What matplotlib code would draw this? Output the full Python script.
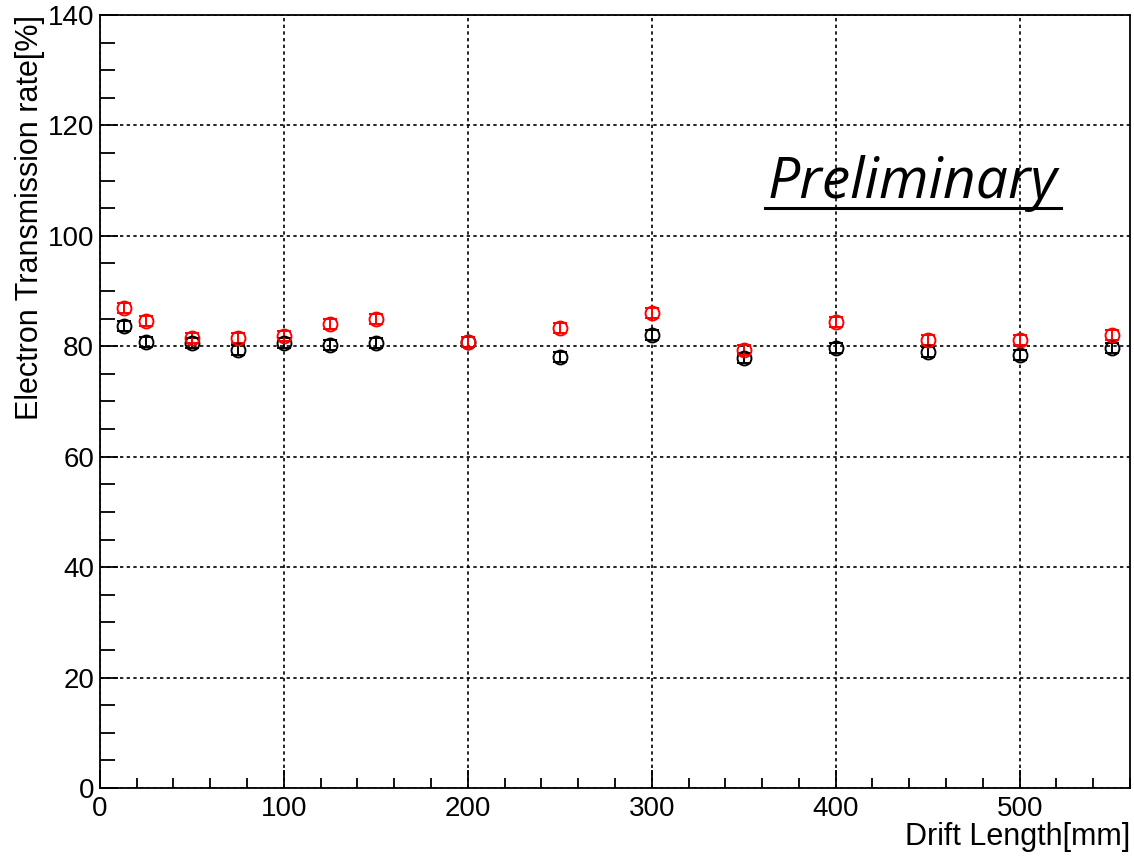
import matplotlib.pyplot as plt
from matplotlib.ticker import MultipleLocator
from matplotlib.lines import Line2D

# drift lengths [mm]
drift = [13, 25, 50, 75, 100, 125, 150, 200, 250, 300, 350, 400, 450, 500, 550]

# electron transmission rate [%]
rate_red = [87.0, 84.6, 81.5, 81.5, 81.8, 84.0, 85.0, 80.8, 83.3, 86.1, 79.4, 84.4, 81.2, 81.2, 82.1]
rate_black = [83.6, 80.8, 80.6, 79.4, 80.6, 80.2, 80.6, 80.8, 78.1, 82.1, 77.8, 79.7, 79.0, 78.5, 79.7]
err_red = [0.9] * len(drift)
err_black = [0.9] * len(drift)

plt.rcParams['font.family'] = ['Liberation Sans', 'DejaVu Sans']

fig = plt.figure(figsize=(11.34, 8.59), dpi=100)
ax = fig.add_axes([0.088, 0.0827, 0.9085, 0.8998])

ax.errorbar(drift, rate_black, yerr=err_black, fmt='o', mfc='none', mec='black',
            ecolor='black', ms=10, mew=1.4, elinewidth=1.4, capsize=5, capthick=1.4)
ax.errorbar(drift, rate_red, yerr=err_red, fmt='o', mfc='none', mec='red',
            ecolor='red', ms=10, mew=1.4, elinewidth=1.4, capsize=5, capthick=1.4)

ax.set_xlim(0, 560)
ax.set_ylim(0, 140)
ax.xaxis.set_major_locator(MultipleLocator(100))
ax.xaxis.set_minor_locator(MultipleLocator(20))
ax.yaxis.set_major_locator(MultipleLocator(20))
ax.yaxis.set_minor_locator(MultipleLocator(5))

ax.grid(True, which='major', color='black', linestyle=(0, (2, 2)), linewidth=1.2)
ax.set_axisbelow(True)

ax.tick_params(axis='x', which='major', direction='in', length=13, width=1.3,
               labelsize=20, pad=6)
ax.tick_params(axis='x', which='minor', direction='in', length=7.5, width=1.3)
ax.tick_params(axis='y', which='major', direction='in', length=13, width=1.3,
               labelsize=20, pad=4)
ax.tick_params(axis='y', which='minor', direction='in', length=11, width=1.3)
for s in ax.spines.values():
    s.set_linewidth(1.3)

ax.set_xlabel('Drift Length[mm]', fontsize=22, loc='right', labelpad=0)
ax.set_ylabel('Electron Transmission rate[%]', fontsize=22, loc='top', labelpad=2)

ax.text(0.929, 0.763, 'Preliminary', transform=ax.transAxes, ha='right', va='baseline',
        fontsize=41, style='italic', family=['Open Sans', 'DejaVu Sans'])
fig.add_artist(Line2D([765 / 1134, 1061 / 1134], [1 - 208 / 859, 1 - 208 / 859],
                      color='black', linewidth=2.2))

fig.savefig('out.png', dpi=100)
